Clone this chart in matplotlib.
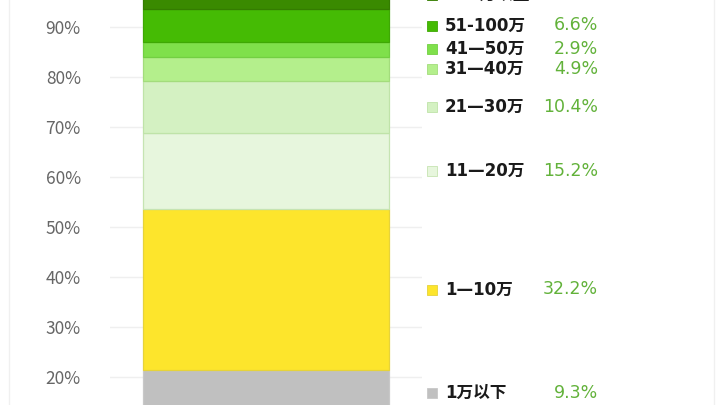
import matplotlib
matplotlib.use("Agg")
import matplotlib.pyplot as plt
from matplotlib.lines import Line2D
import numpy as np

# -----------------------------
# Data (bottom to top of the stacked bar)
# -----------------------------
# first segment is cut off below the visible area; its name is not readable
CATEGORIES = [None, "1万以下", "1—10万", "11—20万", "21—30万",
              "31—40万", "41—50万", "51-100万", "100万以上"]
SHARES = np.array([12.1, 9.3, 32.2, 15.2, 10.4, 4.9, 2.9, 6.6, 6.4])
Y_TICKS = [20, 30, 40, 50, 60, 70, 80, 90]

# -----------------------------
# Style
# -----------------------------
COLORS = ["#a9a9a9", "#c0c0c0", "#fde52c", "#e7f6dd", "#d4f1c2",
          "#b4ef8c", "#7fe04b", "#45bb04", "#3a8a00"]
EDGES = ["#b0b0b0", "#c8c8c8", "#e6d33a", "#c6e4b2", "#bfe3a8",
         "#a3dc7c", "#72cf42", "#3ea804", "#347c00"]
PCT_COLOR = "#62b23a"
TICK_COLOR = "#666666"
GRID_COLOR = "#efefef"
WIDE = ["DejaVu Sans", "Noto Sans CJK SC"]

plt.rcParams["font.family"] = ["Noto Sans CJK SC", "DejaVu Sans"]

fig = plt.figure(figsize=(7.2, 4.05), dpi=100)
fig.patch.set_facecolor("white")

# axes is taller than the canvas: the screenshot only shows the middle of it
ax = fig.add_axes([110 / 720, -72 / 405, 312 / 720, 500 / 405])
ax.set_xlim(-0.5, 0.5)
ax.set_ylim(0, 100)

bottoms = np.concatenate([[0], np.cumsum(SHARES)[:-1]])
ax.bar(0, SHARES, width=0.79, bottom=bottoms, color=COLORS,
       edgecolor=EDGES, linewidth=0.9, zorder=3)

ax.set_yticks(Y_TICKS)
ax.set_yticklabels([f"{v}%" for v in Y_TICKS])
ax.tick_params(axis="y", length=0, pad=21, labelsize=12.5, labelcolor=TICK_COLOR)
ax.set_xticks([])
ax.yaxis.grid(True, color=GRID_COLOR, linewidth=1.0, zorder=0)
for side in ["top", "right", "left", "bottom"]:
    ax.spines[side].set_visible(False)

# labels to the right of the bar
trans = ax.get_yaxis_transform()
mids = bottoms + SHARES / 2
mids[-1] -= 0.4  # top label sits a little lower than its segment centre
for name, share, mid, color, edge in zip(CATEGORIES, SHARES, mids, COLORS, EDGES):
    if name is None:
        continue
    ax.plot([1.032], [mid], marker="s", markersize=7.2, color=color,
            markeredgecolor=edge, markeredgewidth=0.6,
            transform=trans, clip_on=False)
    ax.text(1.074, mid, name, transform=trans, ha="left", va="center",
            fontsize=12, fontweight="bold", color="#1a1a1a", family=WIDE)
    ax.text(1.564, mid, f"{share:.1f}%", transform=trans, ha="right",
            va="center", fontsize=12.5, color=PCT_COLOR, family=WIDE)

# faint frame edges of the screenshot
for xp in (8.5 / 720, 713.5 / 720):
    fig.add_artist(Line2D([xp, xp], [0, 1], color="#f0f0f0", linewidth=1.0))

fig.savefig("out.png", dpi=100)
